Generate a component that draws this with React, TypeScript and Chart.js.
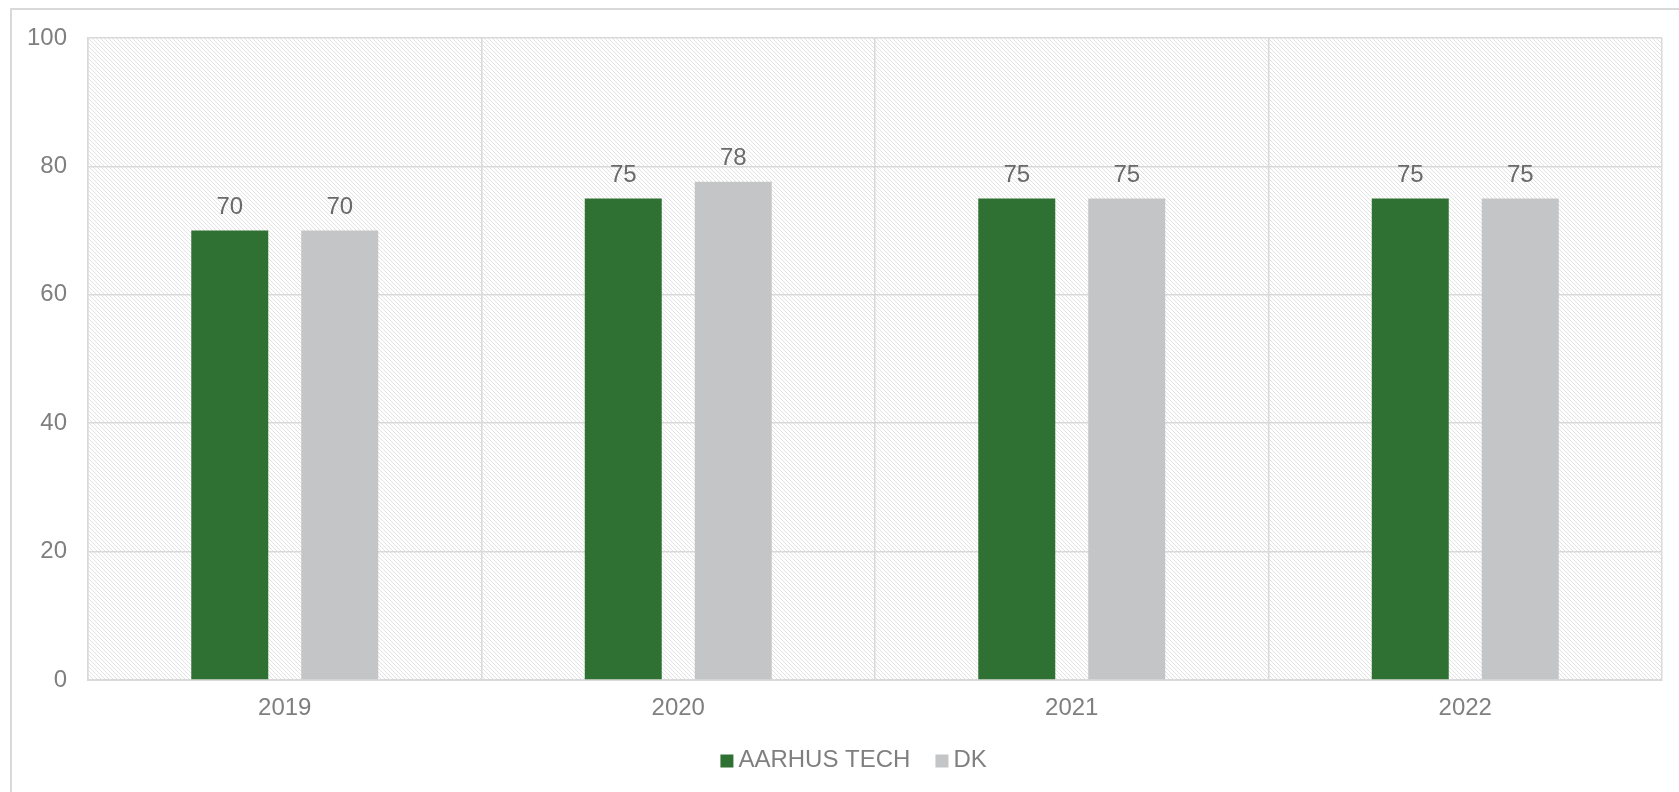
import React, { useEffect, useRef } from "react";
import { Chart, registerables } from "chart.js";

Chart.register(...registerables);

const categories = ["2019", "2020", "2021", "2022"];
const seriesNames = ["AARHUS TECH", "DK"];
const aarhusValues = [70, 75, 75, 75];
const dkValues = [70, 77.6, 75, 75];
const yMin = 0;
const yMax = 100;
const yStep = 20;

const FONT = "'Liberation Sans', Arial, Helvetica, sans-serif";
const GREEN = "#2F7033";
const GREY = "#C4C5C7";
const GRID = "#d9d9d9";
const TICK_COLOR = "#7f7f7f";
const LABEL_COLOR = "#6a6a6a";

function makeTile(): HTMLCanvasElement {
  const c = document.createElement("canvas");
  c.width = 8;
  c.height = 8;
  const g = c.getContext("2d")!;
  g.fillStyle = "#ffffff";
  g.fillRect(0, 0, 8, 8);
  g.fillStyle = "#e2e2e2";
  for (let y = 0; y < 8; y++) {
    for (let x = 0; x < 8; x++) {
      if ((((x - y) % 4) + 4) % 4 === 0) g.fillRect(x, y, 1, 1);
    }
  }
  return c;
}

export default function App() {
  const ref = useRef<HTMLCanvasElement | null>(null);

  useEffect(() => {
    if (!ref.current) return;
    const tile = makeTile();

    const hatchPlugin = {
      id: "hatchBg",
      beforeDraw(chart: any) {
        const { ctx, chartArea: a } = chart;
        if (!a) return;
        ctx.save();
        const pat = ctx.createPattern(tile, "repeat");
        ctx.fillStyle = pat || "#f6f6f6";
        ctx.fillRect(a.left, a.top, a.right - a.left, a.bottom - a.top);
        ctx.restore();
      },
    };

    const valueLabels = {
      id: "valueLabels",
      afterDatasetsDraw(chart: any) {
        const { ctx } = chart;
        ctx.save();
        ctx.font = `24px ${FONT}`;
        ctx.fillStyle = LABEL_COLOR;
        ctx.textAlign = "center";
        ctx.textBaseline = "alphabetic";
        chart.data.datasets.forEach((ds: any, i: number) => {
          const meta = chart.getDatasetMeta(i);
          meta.data.forEach((el: any, j: number) => {
            const v = ds.data[j];
            ctx.fillText(String(Math.round(v)), el.x, el.y - 17);
          });
        });
        ctx.restore();
      },
    };

    // legend drawn from the datasets' labels and colours
    const LEGEND_CENTER_X = 841.6;
    const LEGEND_BASELINE_Y = 756.5;
    const legendPlugin = {
      id: "bottomLegend",
      afterDraw(chart: any) {
        const { ctx } = chart;
        ctx.save();
        ctx.font = `24px ${FONT}`;
        ctx.textBaseline = "alphabetic";
        ctx.textAlign = "left";
        const box = 13;
        const gap = 5;
        const itemGap = 25;
        const items = chart.data.datasets.map((ds: any) => ({
          text: ds.label,
          color: ds.backgroundColor,
          w: ctx.measureText(ds.label).width,
        }));
        const total =
          items.reduce((s: number, it: any) => s + box + gap + it.w, 0) +
          itemGap * (items.length - 1);
        let x = LEGEND_CENTER_X - total / 2;
        items.forEach((it: any) => {
          ctx.fillStyle = it.color;
          ctx.fillRect(x, LEGEND_BASELINE_Y - 12, box, box);
          x += box + gap;
          ctx.fillStyle = TICK_COLOR;
          ctx.fillText(it.text, x, LEGEND_BASELINE_Y);
          x += it.w + itemGap;
        });
        ctx.restore();
      },
    };

    const chart = new Chart(ref.current, {
      type: "bar",
      data: {
        labels: categories,
        datasets: [
          {
            label: seriesNames[0],
            data: aarhusValues,
            backgroundColor: GREEN,
            borderWidth: 0,
            categoryPercentage: 0.559,
            barPercentage: 0.7,
          },
          {
            label: seriesNames[1],
            data: dkValues,
            backgroundColor: GREY,
            borderWidth: 0,
            categoryPercentage: 0.559,
            barPercentage: 0.7,
          },
        ],
      },
      options: {
        animation: false,
        responsive: false,
        maintainAspectRatio: false,
        devicePixelRatio: 1,
        layout: { padding: { left: 15, right: 17, top: 28, bottom: 68.8 } },
        plugins: {
          tooltip: { enabled: false },
          title: { display: false },
          legend: { display: false },
        },
        scales: {
          x: {
            grid: {
              color: GRID,
              lineWidth: 1.5,
              drawTicks: false,
              offset: true,
            },
            border: { color: GRID, width: 2 },
            ticks: {
              color: TICK_COLOR,
              font: { family: FONT, size: 24 },
              padding: 14.4,
            },
            afterFit(scale: any) {
              scale.height = 43.2;
            },
          },
          y: {
            min: yMin,
            max: yMax,
            grid: { color: GRID, lineWidth: 1.5, drawTicks: false },
            border: { color: GRID, width: 1.5 },
            ticks: {
              stepSize: yStep,
              color: TICK_COLOR,
              font: { family: FONT, size: 24 },
              padding: 21,
            },
            afterFit(scale: any) {
              scale.width = 61;
              scale.paddingTop = 0;
              scale.paddingBottom = 0;
            },
          },
        },
      },
      plugins: [hatchPlugin, valueLabels, legendPlugin],
    });

    return () => chart.destroy();
  }, []);

  return (
    <div
      style={{
        position: "fixed",
        left: 10,
        top: 8,
        width: 1700,
        height: 820,
        borderTop: "2px solid #d9d9d9",
        borderLeft: "2px solid #d9d9d9",
        background: "#ffffff",
      }}
    >
      <canvas
        ref={ref}
        width={1667}
        height={782}
        style={{ position: "absolute", left: 0, top: 0, width: 1667, height: 782 }}
      />
    </div>
  );
}
